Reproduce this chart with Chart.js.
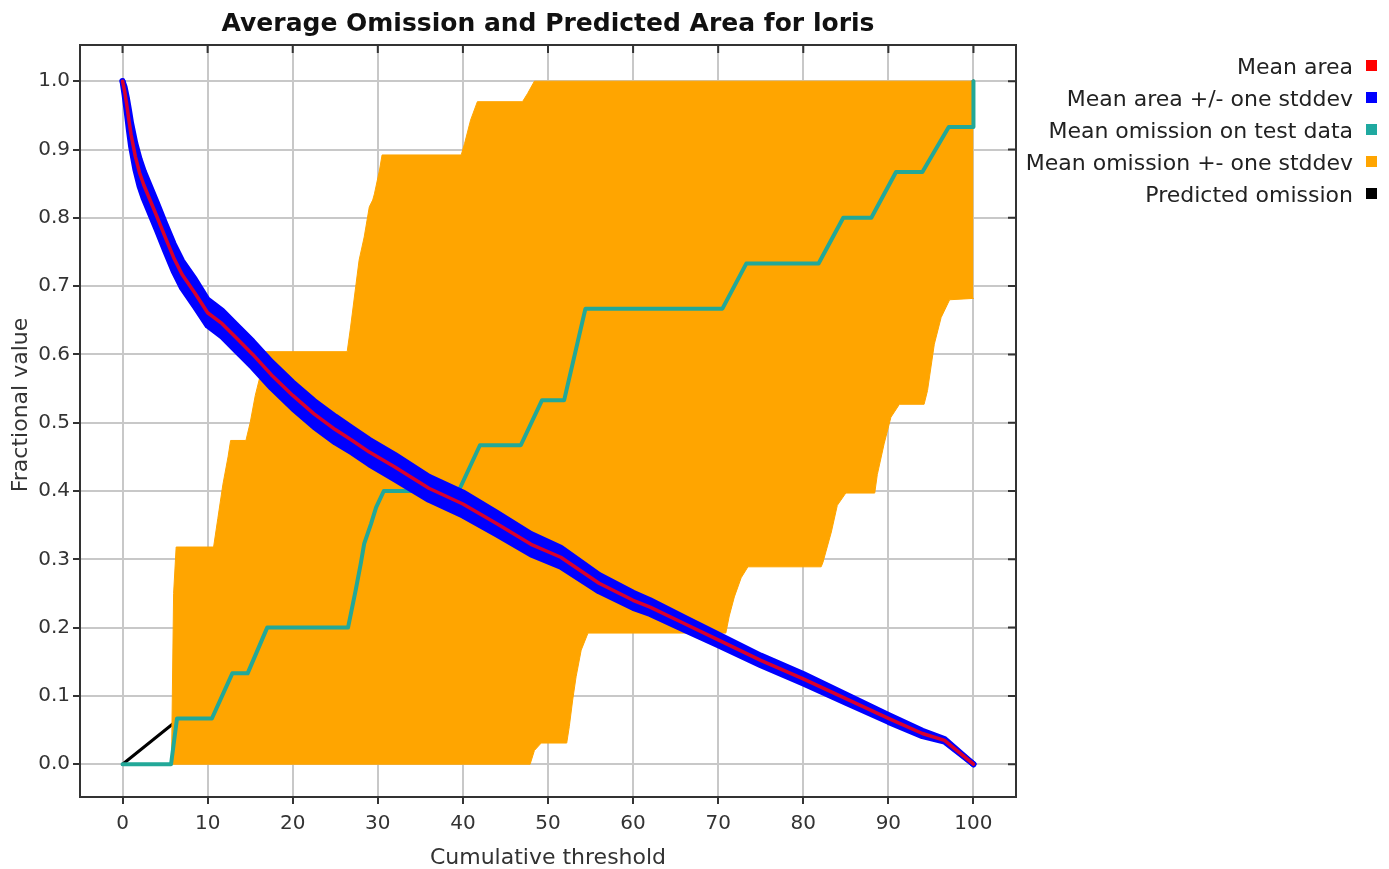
<!DOCTYPE html>
<html>
<head>
<meta charset="utf-8">
<title>Average Omission and Predicted Area for loris</title>
<script src="https://cdn.jsdelivr.net/npm/chart.js@4.4.1/dist/chart.umd.min.js"></script>
<style>
  html, body { margin: 0; padding: 0; background: #fff; }
  #wrap { width: 1389px; height: 869px; position: relative; }
</style>
</head>
<body>
<div id="wrap"><canvas id="omission"></canvas></div>
<script>
// axis ticks
const xTicks = [0, 10, 20, 30, 40, 50, 60, 70, 80, 90, 100];
const yTicks = [0, 0.1, 0.2, 0.3, 0.4, 0.5, 0.6, 0.7, 0.8, 0.9, 1.0];

// fractional predicted area vs cumulative threshold
const areaX     = [0, 0.25, 0.5, 0.75, 1, 1.5, 2, 2.5, 3, 4, 5, 6, 7, 8.5, 10, 11.7, 13.3, 15.3, 17.5, 20, 22.5, 25, 27, 29, 32, 36, 40, 44, 48, 51.5, 56, 60, 62, 66, 70, 75, 80, 85, 90, 94, 96.6, 100];
const meanArea  = [1.0, 0.985, 0.965, 0.943, 0.922, 0.890, 0.866, 0.848, 0.833, 0.803, 0.772, 0.742, 0.717, 0.690, 0.661, 0.645, 0.625, 0.600, 0.570, 0.540, 0.513, 0.490, 0.474, 0.457, 0.435, 0.404, 0.381, 0.352, 0.322, 0.303, 0.265, 0.240, 0.230, 0.206, 0.182, 0.152, 0.125, 0.096, 0.067, 0.045, 0.035, 0.0];
const areaUpper = [1.0, 0.991, 0.976, 0.958, 0.939, 0.909, 0.886, 0.868, 0.853, 0.823, 0.792, 0.762, 0.737, 0.710, 0.680, 0.664, 0.644, 0.619, 0.589, 0.559, 0.532, 0.509, 0.492, 0.475, 0.453, 0.421, 0.398, 0.368, 0.337, 0.317, 0.277, 0.251, 0.240, 0.215, 0.190, 0.159, 0.132, 0.102, 0.072, 0.049, 0.037, 0.0];
const areaLower = [1.0, 0.979, 0.954, 0.928, 0.905, 0.871, 0.846, 0.828, 0.813, 0.783, 0.752, 0.722, 0.697, 0.670, 0.642, 0.626, 0.606, 0.581, 0.551, 0.521, 0.494, 0.471, 0.456, 0.439, 0.417, 0.387, 0.364, 0.336, 0.307, 0.289, 0.253, 0.229, 0.220, 0.197, 0.174, 0.145, 0.118, 0.090, 0.062, 0.041, 0.033, 0.0];

// mean omission on test data (stepped)
const omitX        = [0, 5.7, 6.4, 10.5, 12.9, 14.7, 17.0, 26.5, 27.4, 28.0, 28.4, 29.2, 29.8, 30.7, 39.5, 42.0, 46.8, 49.3, 51.9, 54.4, 70.5, 73.3, 81.8, 84.7, 88.0, 90.9, 94.0, 97.1, 100, 100];
const meanOmission = [0, 0, 0.067, 0.067, 0.133, 0.133, 0.2, 0.2, 0.255, 0.294, 0.323, 0.352, 0.376, 0.4, 0.4, 0.467, 0.467, 0.533, 0.533, 0.667, 0.667, 0.733, 0.733, 0.8, 0.8, 0.867, 0.867, 0.933, 0.933, 1.0];

// omission +/- one stddev envelope
const omitUpperX = [5.75, 5.85, 6.0, 6.3, 10.7, 11.2, 11.8, 12.4, 12.7, 14.5, 15.0, 15.6, 16.2, 16.6, 26.4, 26.8, 27.4, 27.8, 28.4, 29.0, 29.4, 29.6, 30.2, 30.5, 39.8, 40.2, 40.9, 41.7, 47.0, 47.6, 48.4, 100];
const omitUpperY = [0, 0.1, 0.25, 0.318, 0.318, 0.36, 0.41, 0.45, 0.474, 0.474, 0.50, 0.54, 0.57, 0.604, 0.604, 0.640, 0.699, 0.738, 0.772, 0.816, 0.826, 0.835, 0.870, 0.892, 0.892, 0.909, 0.943, 0.970, 0.970, 0.982, 1.0, 1.0];
const omitLowerX = [5.75, 47.9, 48.4, 49.2, 52.2, 52.5, 52.9, 53.3, 53.9, 54.7, 70.9, 71.3, 71.9, 72.7, 73.5, 82.1, 82.3, 83.3, 84.0, 85.0, 88.4, 88.7, 89.5, 90.3, 91.3, 94.2, 94.6, 95.4, 96.2, 97.2, 100];
const omitLowerY = [0, 0, 0.020, 0.031, 0.031, 0.055, 0.094, 0.128, 0.167, 0.192, 0.192, 0.217, 0.245, 0.273, 0.289, 0.289, 0.295, 0.340, 0.379, 0.397, 0.397, 0.424, 0.469, 0.508, 0.527, 0.527, 0.547, 0.615, 0.654, 0.680, 0.682];

// predicted omission
const predX = [0, 100];
const predY = [0, 1];

const legendItems = [
  ['Mean area', '#ff0000'],
  ['Mean area +/- one stddev', '#0000ff'],
  ['Mean omission on test data', '#1fa9a0'],
  ['Mean omission +- one stddev', '#ffa500'],
  ['Predicted omission', '#000000']
];

const FONT = '"DejaVu Sans", sans-serif';
const pts = (xs, ys) => xs.map((x, i) => ({ x: x, y: ys[i] }));

const frame = {
  id: 'frame',
  afterDatasetsDraw(chart) {
    const { ctx, chartArea: a, scales } = chart;
    ctx.save();
    ctx.strokeStyle = '#333';
    ctx.lineWidth = 2;
    ctx.strokeRect(a.left, a.top, a.right - a.left, a.bottom - a.top);
    ctx.beginPath();
    xTicks.forEach(v => {
      const px = scales.x.getPixelForValue(v);
      ctx.moveTo(px, a.top); ctx.lineTo(px, a.top + 8);
    });
    yTicks.forEach(v => {
      const py = scales.y.getPixelForValue(v);
      ctx.moveTo(a.right, py); ctx.lineTo(a.right - 8, py);
    });
    ctx.stroke();
    ctx.restore();
  },
  afterDraw(chart) {
    const { ctx, chartArea: a } = chart;
    const midX = (a.left + a.right) / 2;
    ctx.save();
    ctx.textBaseline = 'middle';
    ctx.fillStyle = '#111';
    ctx.font = 'bold 25px ' + FONT;
    ctx.textAlign = 'center';
    ctx.fillText('Average Omission and Predicted Area for loris', midX, 24);

    // axis titles
    ctx.fillStyle = '#333';
    ctx.font = '22px ' + FONT;
    ctx.fillText('Cumulative threshold', midX, 858);
    ctx.save();
    ctx.translate(21, 405);
    ctx.rotate(-Math.PI / 2);
    ctx.fillText('Fractional value', 0, 0);
    ctx.restore();

    // legend, boxes on the right of the labels
    ctx.textAlign = 'right';
    legendItems.forEach((it, i) => {
      const y = 68 + i * 32;
      ctx.fillStyle = '#222';
      ctx.fillText(it[0], 1353, y);
      ctx.fillStyle = it[1];
      ctx.fillRect(1366, y - 8, 11, 11);
    });
    ctx.restore();
  }
};

new Chart(document.getElementById('omission'), {
  type: 'line',
  data: {
    datasets: [
      { label: 'Mean area', data: pts(areaX, meanArea), borderColor: '#d8002c', borderWidth: 3.5, fill: false, order: 0 },
      { label: 'Mean area +/- one stddev', data: pts(areaX, areaUpper), borderColor: '#0000ff', backgroundColor: '#0000ff', borderWidth: 6, fill: '+1', order: 1 },
      { label: 'area lower', data: pts(areaX, areaLower), borderColor: '#0000ff', borderWidth: 6, fill: false, order: 1 },
      { label: 'Mean omission on test data', data: pts(omitX, meanOmission), borderColor: '#22a898', borderWidth: 4, fill: false, order: 2 },
      { label: 'Mean omission +- one stddev', data: pts(omitUpperX, omitUpperY), borderColor: '#ffa500', backgroundColor: '#ffa500', borderWidth: 1, fill: '+1', order: 3 },
      { label: 'omission lower', data: pts(omitLowerX, omitLowerY), borderColor: '#ffa500', borderWidth: 1, fill: false, order: 3 },
      { label: 'Predicted omission', data: pts(predX, predY), borderColor: '#000000', borderWidth: 3, fill: false, order: 4 }
    ]
  },
  options: {
    responsive: true,
    maintainAspectRatio: false,
    animation: false,
    events: [],
    elements: { point: { radius: 0, hoverRadius: 0 }, line: { tension: 0, borderJoinStyle: 'round', borderCapStyle: 'round' } },
    layout: { padding: { top: 45, right: 373, left: 0, bottom: 0 } },
    plugins: { legend: { display: false }, tooltip: { enabled: false }, title: { display: false } },
    scales: {
      x: {
        type: 'linear', min: -5, max: 105,
        afterBuildTicks: s => { s.ticks = xTicks.map(v => ({ value: v })); },
        afterFit: s => { s.height = 72; },
        grid: { color: '#c8c8c8', lineWidth: 2, tickColor: '#333', tickLength: 7, tickWidth: 2 },
        border: { color: '#333', width: 2 },
        ticks: { font: { family: FONT, size: 20 }, color: '#333', padding: 8, maxRotation: 0, callback: v => String(v) },
        title: { display: false }
      },
      y: {
        type: 'linear', min: -0.048, max: 1.053,
        afterBuildTicks: s => { s.ticks = yTicks.map(v => ({ value: v })); },
        afterFit: s => { s.width = 80; },
        grid: { color: '#c8c8c8', lineWidth: 2, tickColor: '#333', tickLength: 7, tickWidth: 2 },
        border: { color: '#333', width: 2 },
        ticks: { font: { family: FONT, size: 20 }, color: '#333', padding: 3, callback: v => v.toFixed(1) },
        title: { display: false }
      }
    }
  },
  plugins: [frame]
});
</script>
</body>
</html>
